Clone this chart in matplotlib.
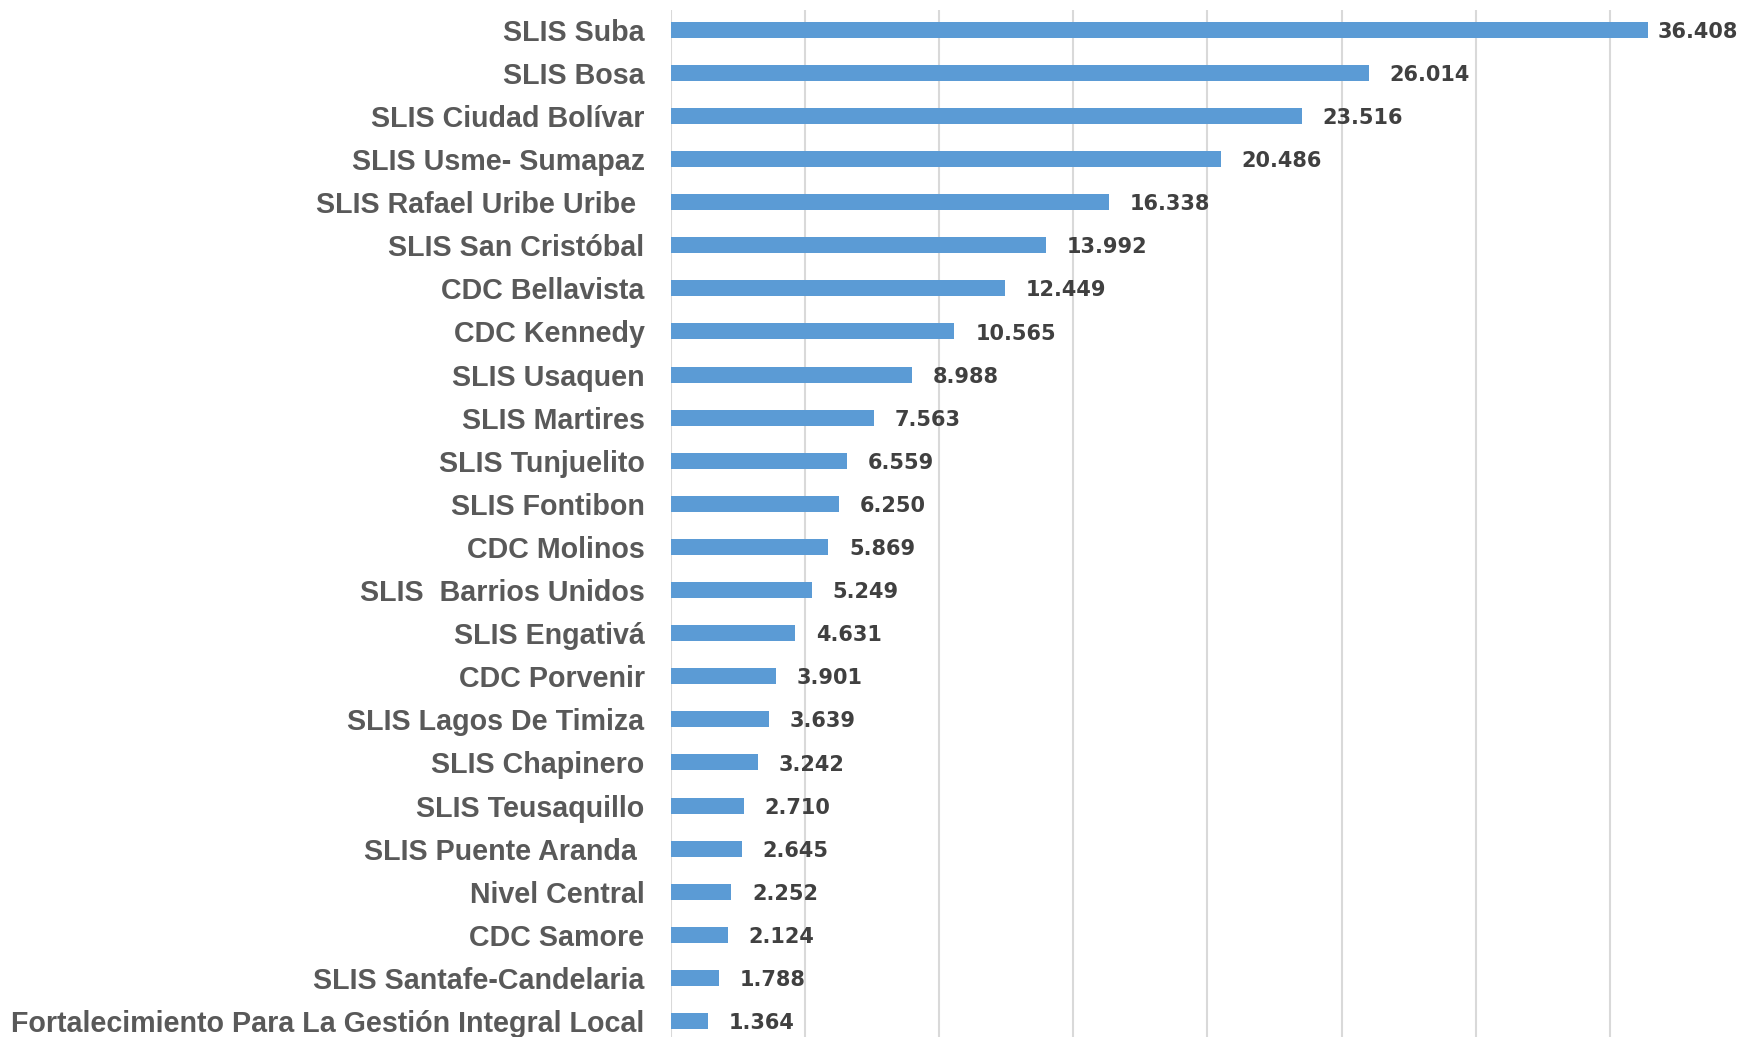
import matplotlib
matplotlib.use('Agg')
import matplotlib.pyplot as plt
import numpy as np

# Datos del grafico (de arriba hacia abajo)
categorias = [
    'SLIS Suba', 'SLIS Bosa', 'SLIS Ciudad Bolívar', 'SLIS Usme- Sumapaz',
    'SLIS Rafael Uribe Uribe ', 'SLIS San Cristóbal', 'CDC Bellavista',
    'CDC Kennedy', 'SLIS Usaquen', 'SLIS Martires', 'SLIS Tunjuelito',
    'SLIS Fontibon', 'CDC Molinos', 'SLIS  Barrios Unidos', 'SLIS Engativá',
    'CDC Porvenir', 'SLIS Lagos De Timiza', 'SLIS Chapinero',
    'SLIS Teusaquillo', 'SLIS Puente Aranda ', 'Nivel Central', 'CDC Samore',
    'SLIS Santafe-Candelaria', 'Fortalecimiento Para La Gestión Integral Local',
]
valores = [
    36.408, 26.014, 23.516, 20.486, 16.338, 13.992, 12.449, 10.565, 8.988,
    7.563, 6.559, 6.250, 5.869, 5.249, 4.631, 3.901, 3.639, 3.242, 2.710,
    2.645, 2.252, 2.124, 1.788, 1.364,
]
etiquetas = [f'{v:.3f}' for v in valores]

fig = plt.figure(figsize=(17.4, 10.37), dpi=100)
ax = fig.add_axes([0.3856, 0.0, 0.6144, 0.9904])

y = np.arange(len(categorias))
bars = ax.barh(y, valores, height=0.37, color='#5B9BD5', zorder=3)

ax.set_xlim(0, 39.85)
ax.set_ylim(len(categorias) - 1 + 0.37, -0.46)
ax.set_xticks(np.arange(0, 40, 5))
ax.set_xticklabels([])
ax.tick_params(axis='x', length=0)
ax.tick_params(axis='y', length=0, pad=19)
ax.grid(axis='x', color='#D9D9D9', linewidth=1.5, zorder=0)

ax.set_yticks(y)
ax.set_yticklabels(categorias, fontsize=20.6, fontweight='bold', color='#595959',
                   family=['Liberation Sans', 'DejaVu Sans'])

for s in ax.spines.values():
    s.set_visible(False)

# Etiquetas de valor junto a cada barra (la mayor va mas pegada para que quepa)
for i, (bar, txt) in enumerate(zip(bars, etiquetas)):
    dx = 7 if i == 0 else 15
    ax.annotate(txt, (bar.get_width(), bar.get_y() + bar.get_height() / 2),
                xytext=(dx, -1.5), textcoords='offset points', ha='left',
                va='center', fontsize=15, fontweight='bold', color='#404040')

plt.savefig('out.png', dpi=100)
